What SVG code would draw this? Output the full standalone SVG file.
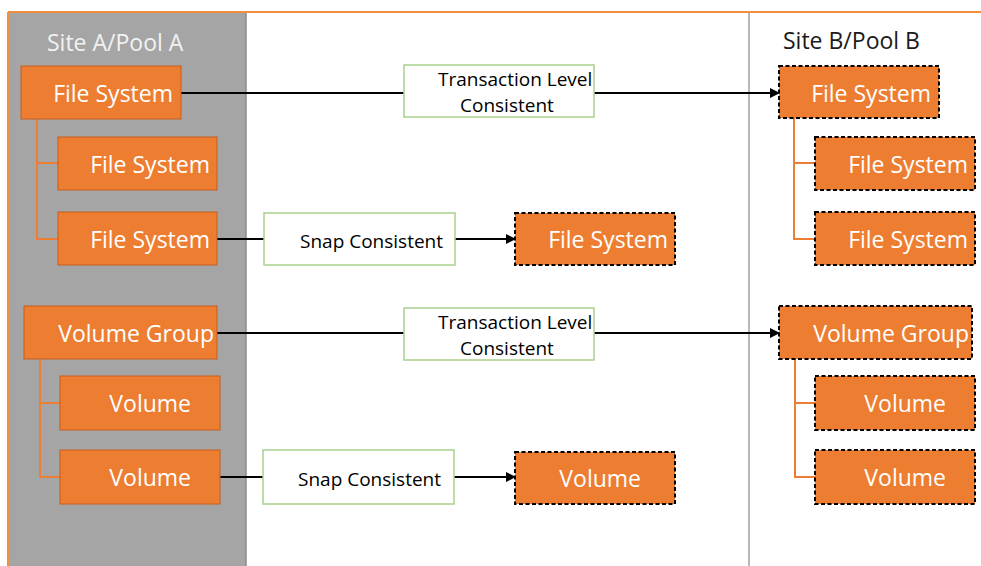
<svg xmlns="http://www.w3.org/2000/svg" width="981" height="566" viewBox="0 0 981 566">
  <defs>
    <marker id="arrow" markerWidth="10" markerHeight="10" refX="9" refY="5" orient="auto" markerUnits="userSpaceOnUse">
      <path d="M0,0 L10,5 L0,10 Z" fill="#000"/>
    </marker>
  </defs>
  <style>
    .src { fill: #ed7d31; stroke: #c65f1f; stroke-width: 1; }
    .dst { fill: #ed7d31; stroke: #000; stroke-width: 2; stroke-dasharray: 4 2.5; }
    .lbl { font-family: "Open Sans", "Noto Sans", sans-serif; font-size: 23px; fill: #fff; }
    .mode { fill: #fff; stroke: #a9d18e; stroke-width: 1.5; }
    .mtxt { font-family: "Open Sans", "Noto Sans", sans-serif; font-size: 19px; fill: #000; }
    .tree { fill: none; stroke: #ed7d31; stroke-width: 2; }
    .link { fill: none; stroke: #000; stroke-width: 1.8; }
  </style>

  <!-- background and site panels -->
  <rect x="0" y="0" width="981" height="566" fill="#fff"/>
  <rect x="8" y="12" width="238" height="554" fill="#a5a5a5"/>
  <line x1="246" y1="12" x2="246" y2="566" stroke="#8c8c8c" stroke-width="1.5"/>
  <line x1="749" y1="12" x2="749" y2="566" stroke="#a0a0a0" stroke-width="1.5"/>
  <line x1="8" y1="12" x2="981" y2="12" stroke="#f0903e" stroke-width="2"/>
  <line x1="8" y1="12" x2="8" y2="566" stroke="#f0903e" stroke-width="2"/>

  <text x="47" y="51" font-family="'Open Sans', 'Noto Sans', sans-serif" font-size="23" fill="#f2f2f2">Site A/Pool A</text>
  <text x="783" y="49" font-family="'Open Sans', 'Noto Sans', sans-serif" font-size="23" fill="#1a1a1a">Site B/Pool B</text>

  <!-- tree and replication connectors -->
  <g id="connectors">
    <path class="tree" d="M37,119 V239 H58 M37,163 H58"/>
    <path class="tree" d="M40,359 V477 H60 M40,403 H60"/>
    <path class="tree" d="M794,118 V239 H815 M794,163 H815"/>
    <path class="tree" d="M795,359 V477 H815 M795,403 H815"/>

    <line class="link" x1="181" y1="93" x2="404" y2="93"/>
    <line class="link" x1="594" y1="93" x2="779" y2="93" marker-end="url(#arrow)"/>
    <line class="link" x1="217" y1="239" x2="264" y2="239"/>
    <line class="link" x1="455" y1="239" x2="515" y2="239" marker-end="url(#arrow)"/>
    <line class="link" x1="217" y1="333" x2="404" y2="333"/>
    <line class="link" x1="594" y1="333" x2="779" y2="333" marker-end="url(#arrow)"/>
    <line class="link" x1="220" y1="477" x2="263" y2="477"/>
    <line class="link" x1="454" y1="477" x2="515" y2="477" marker-end="url(#arrow)"/>
  </g>

  <!-- Site A objects -->
  <g id="a-fs1"><rect class="src" x="21" y="66" width="160" height="53"/><text class="lbl" x="173" y="102" text-anchor="end">File System</text></g>
  <g id="a-fs2"><rect class="src" x="58" y="137" width="159" height="53"/><text class="lbl" x="210" y="173" text-anchor="end">File System</text></g>
  <g id="a-fs3"><rect class="src" x="58" y="212" width="159" height="53"/><text class="lbl" x="210" y="248" text-anchor="end">File System</text></g>
  <g id="a-vg"><rect class="src" x="24" y="306" width="193" height="53"/><text class="lbl" x="214" y="342" text-anchor="end">Volume Group</text></g>
  <g id="a-vol1"><rect class="src" x="60" y="376" width="160" height="54"/><text class="lbl" x="191" y="412" text-anchor="end">Volume</text></g>
  <g id="a-vol2"><rect class="src" x="60" y="450" width="160" height="54"/><text class="lbl" x="191" y="486" text-anchor="end">Volume</text></g>

  <!-- replication modes -->
  <g id="mode-txn1"><rect class="mode" x="404" y="65" width="190" height="52"/><text class="mtxt" x="438" y="86">Transaction Level</text><text class="mtxt" x="460" y="112">Consistent</text></g>
  <g id="mode-snap1"><rect class="mode" x="264" y="213" width="191" height="52"/><text class="mtxt" x="300" y="248">Snap Consistent</text></g>
  <g id="mode-txn2"><rect class="mode" x="404" y="308" width="190" height="52"/><text class="mtxt" x="438" y="329">Transaction Level</text><text class="mtxt" x="460" y="355">Consistent</text></g>
  <g id="mode-snap2"><rect class="mode" x="263" y="450" width="191" height="54"/><text class="mtxt" x="298" y="486">Snap Consistent</text></g>

  <!-- local snapshot copies -->
  <g id="snap-fs"><rect class="dst" x="515" y="213" width="160" height="52"/><text class="lbl" x="668" y="248" text-anchor="end">File System</text></g>
  <g id="snap-vol"><rect class="dst" x="515" y="452" width="160" height="52"/><text class="lbl" x="641" y="487" text-anchor="end">Volume</text></g>

  <!-- Site B objects -->
  <g id="b-fs1"><rect class="dst" x="779" y="66" width="160" height="52"/><text class="lbl" x="931" y="102" text-anchor="end">File System</text></g>
  <g id="b-fs2"><rect class="dst" x="815" y="137" width="160" height="53"/><text class="lbl" x="968" y="173" text-anchor="end">File System</text></g>
  <g id="b-fs3"><rect class="dst" x="815" y="212" width="160" height="53"/><text class="lbl" x="968" y="248" text-anchor="end">File System</text></g>
  <g id="b-vg"><rect class="dst" x="779" y="306" width="193" height="53"/><text class="lbl" x="969" y="342" text-anchor="end">Volume Group</text></g>
  <g id="b-vol1"><rect class="dst" x="815" y="376" width="160" height="54"/><text class="lbl" x="946" y="412" text-anchor="end">Volume</text></g>
  <g id="b-vol2"><rect class="dst" x="815" y="450" width="160" height="54"/><text class="lbl" x="946" y="486" text-anchor="end">Volume</text></g>
</svg>
